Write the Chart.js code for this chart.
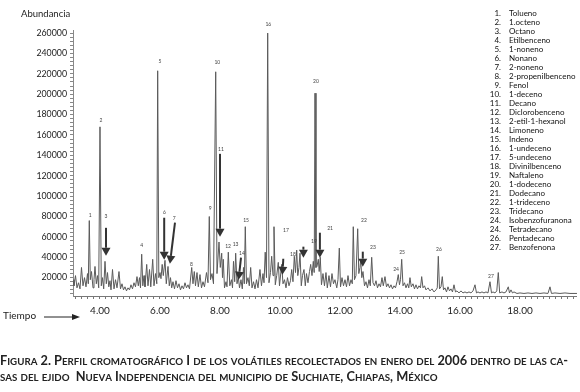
<!DOCTYPE html>
<html>
<head>
<meta charset="utf-8">
<script src="https://cdn.jsdelivr.net/npm/chart.js@4"></script>
<style>
  html, body { margin: 0; padding: 0; background: #fff; }
  #wrap { width: 580px; height: 392px; }
</style>
</head>
<body>
<div id="wrap"><canvas id="cromatograma" width="580" height="392"></canvas></div>
<script>
const tiempo = [
  3.100, 3.133, 3.183, 3.233, 3.283, 3.333, 3.383, 3.433, 3.483, 3.533,
  3.583, 3.610, 3.643, 3.677, 3.717, 3.767, 3.800, 3.833, 3.877, 3.917,
  3.957, 4.000, 4.043, 4.083, 4.123, 4.167, 4.210, 4.250, 4.293, 4.333,
  4.367, 4.417, 4.467, 4.517, 4.567, 4.633, 4.683, 4.733, 4.783, 4.833,
  4.883, 4.933, 4.983, 5.033, 5.083, 5.133, 5.183, 5.233, 5.277, 5.317,
  5.350, 5.390, 5.427, 5.467, 5.500, 5.557, 5.600, 5.650, 5.693, 5.757,
  5.800, 5.850, 5.893, 5.923, 5.960, 6.000, 6.033, 6.073, 6.110, 6.167,
  6.210, 6.267, 6.310, 6.350, 6.390, 6.433, 6.483, 6.533, 6.583, 6.633,
  6.683, 6.733, 6.783, 6.833, 6.883, 6.933, 6.983, 7.057, 7.100, 7.143,
  7.183, 7.233, 7.277, 7.333, 7.383, 7.433, 7.483, 7.550, 7.600, 7.643,
  7.683, 7.733, 7.783, 7.857, 7.900, 7.967, 8.010, 8.057, 8.083, 8.110,
  8.150, 8.200, 8.233, 8.277, 8.327, 8.383, 8.417, 8.450, 8.490, 8.523,
  8.567, 8.610, 8.650, 8.700, 8.743, 8.783, 8.810, 8.843, 8.883, 8.933,
  8.977, 9.023, 9.067, 9.117, 9.167, 9.217, 9.267, 9.333, 9.383, 9.433,
  9.467, 9.507, 9.550, 9.590, 9.633, 9.683, 9.723, 9.767, 9.800, 9.843,
  9.890, 9.943, 9.983, 10.057, 10.100, 10.150, 10.200, 10.250, 10.300, 10.350,
  10.390, 10.433, 10.477, 10.517, 10.557, 10.593, 10.633, 10.667, 10.710, 10.750,
  10.800, 10.843, 10.883, 10.933, 10.983, 11.023, 11.067, 11.110, 11.140, 11.167,
  11.200, 11.233, 11.277, 11.307, 11.343, 11.383, 11.433, 11.483, 11.533, 11.577,
  11.633, 11.683, 11.733, 11.783, 11.833, 11.893, 11.933, 11.977, 12.017, 12.067,
  12.117, 12.167, 12.217, 12.267, 12.317, 12.367, 12.410, 12.443, 12.483, 12.533,
  12.590, 12.627, 12.667, 12.690, 12.727, 12.767, 12.817, 12.867, 12.917, 12.967,
  13.010, 13.057, 13.100, 13.150, 13.200, 13.250, 13.300, 13.350, 13.400, 13.443,
  13.500, 13.550, 13.600, 13.650, 13.700, 13.750, 13.800, 13.850, 13.900, 13.943,
  13.983, 14.017, 14.057, 14.100, 14.150, 14.200, 14.250, 14.293, 14.333, 14.377,
  14.433, 14.483, 14.533, 14.583, 14.633, 14.683, 14.723, 14.767, 14.817, 14.867,
  14.933, 15.000, 15.067, 15.133, 15.200, 15.243, 15.277, 15.317, 15.367, 15.410,
  15.450, 15.500, 15.550, 15.600, 15.650, 15.700, 15.750, 15.800, 15.850, 15.900,
  15.967, 16.033, 16.100, 16.167, 16.233, 16.300, 16.367, 16.433, 16.500, 16.550,
  16.600, 16.667, 16.733, 16.800, 16.867, 16.933, 17.000, 17.050, 17.100, 17.167,
  17.227, 17.277, 17.323, 17.400, 17.467, 17.533, 17.610, 17.650, 17.700, 17.750,
  17.800, 17.900, 18.000, 18.133, 18.267, 18.400, 18.533, 18.667, 18.800, 18.933,
  19.000, 19.050, 19.167, 19.333, 19.500, 19.667, 19.900
];
const abundancia = [
  18000, 12000, 22000, 10000, 15000, 9000, 30000, 12000, 20000, 11000,
  24000, 14000, 76000, 18000, 26000, 10000, 18000, 31000, 14000, 22000,
  10000, 168000, 12000, 20000, 9000, 36000, 14000, 25000, 11000, 17000,
  8000, 28000, 9000, 18000, 10000, 26000, 9000, 14000, 8000, 11000,
  7000, 10000, 8000, 13000, 9000, 15000, 11000, 21000, 12000, 20000,
  10000, 43000, 12000, 22000, 11000, 33000, 12000, 28000, 11000, 38000,
  12000, 24000, 14000, 223000, 20000, 25000, 19000, 33000, 22000, 37000,
  14000, 31000, 12000, 20000, 10000, 16000, 9000, 17000, 10000, 14000,
  8000, 12000, 9000, 15000, 10000, 13000, 9000, 30000, 14000, 26000,
  12000, 25000, 11000, 23000, 10000, 16000, 11000, 25000, 15000, 80000,
  18000, 24000, 14000, 222000, 24000, 55000, 30000, 44000, 20000, 38000,
  10000, 16000, 11000, 45000, 12000, 18000, 10000, 36000, 16000, 44000,
  14000, 21000, 10000, 18000, 9000, 30000, 14000, 70000, 14000, 20000,
  12000, 30000, 10000, 16000, 9000, 18000, 10000, 28000, 12000, 24000,
  15000, 45000, 20000, 260000, 15000, 25000, 41000, 22000, 70000, 13000,
  22000, 35000, 12000, 33000, 14000, 18000, 10000, 20000, 12000, 17000,
  28000, 16000, 41000, 25000, 47000, 22000, 30000, 44000, 12000, 22000,
  28000, 12000, 24000, 15000, 26000, 33000, 22000, 36000, 25000, 201000,
  30000, 31000, 38000, 26000, 40000, 13000, 24000, 12000, 25000, 10000,
  22000, 11000, 24000, 14000, 18000, 10000, 18000, 49000, 11000, 20000,
  12000, 18000, 11000, 22000, 12000, 18000, 14000, 70000, 18000, 22000,
  68000, 24000, 30000, 38000, 20000, 26000, 12000, 16000, 10000, 18000,
  12000, 40000, 15000, 12000, 17000, 10000, 14000, 11000, 20000, 12000,
  21000, 11000, 14000, 10000, 13000, 9000, 12000, 10000, 16000, 23000,
  13000, 18000, 38000, 12000, 15000, 10000, 14000, 10000, 20000, 11000,
  14000, 9000, 13000, 9000, 12000, 10000, 21000, 10000, 12000, 8000,
  10000, 7000, 9000, 6000, 8000, 10000, 41000, 9000, 11000, 21000,
  8000, 10000, 6000, 11000, 7000, 9000, 6000, 13000, 6000, 7000,
  5000, 7000, 5000, 6000, 5000, 6000, 5000, 7000, 13000, 5000,
  6000, 5000, 6000, 5000, 6000, 5000, 16000, 5000, 6000, 5000,
  7000, 25000, 5000, 6000, 5000, 6000, 11000, 5000, 8000, 5000,
  6000, 4500, 5000, 4500, 5000, 4500, 5000, 4500, 5000, 4500,
  11000, 4500, 5000, 4500, 5000, 4500, 4500
];

// ticks con etiqueta
const yTicks = [20000, 40000, 60000, 80000, 100000, 120000, 140000, 160000, 180000, 200000, 220000, 240000, 260000];
const xTicks = [4, 6, 8, 10, 12, 14, 16, 18];

// numeros de pico (posicion del rotulo en min / abundancia)
const picoNum = ['1', '2', '3', '4', '5', '6', '7', '8', '9', '10', '11', '12', '13', '14', '15', '16', '17', '18', '19', '20', '21', '22', '23', '24', '25', '26', '27'];
const picoT = [3.67, 4.03, 4.2, 5.39, 6.0, 6.15, 6.47, 7.05, 7.67, 7.91, 8.03, 8.27, 8.52, 8.73, 8.87, 9.61, 10.2, 10.43, 11.13, 11.2, 11.67, 12.8, 13.1, 13.87, 14.07, 15.3, 17.03];
const picoV = [80700, 174700, 79700, 51300, 232500, 84500, 77700, 32700, 88000, 231500, 145400, 50400, 52300, 43500, 75800, 268800, 66000, 42500, 55200, 212700, 68600, 76400, 49400, 27800, 44500, 47400, 21000];

// flechas: desde (t1, v1) hasta la punta (t2, v2)
const flechaT1 = [4.2, 6.14, 6.5, 8.0, 8.7, 10.11, 10.78, 11.33, 12.76];
const flechaV1 = [68900, 78800, 73900, 141500, 39600, 38600, 50400, 64100, 45500];
const flechaT2 = [4.2, 6.14, 6.33, 8.0, 8.62, 10.08, 10.78, 11.33, 12.76];
const flechaV2 = [41500, 37600, 33700, 60200, 18000, 22900, 39600, 39600, 30800];

// lista de compuestos
const numeros = ['1.', '2.', '3.', '4.', '5.', '6.', '7.', '8.', '9.', '10.', '11.', '12.', '13.', '14.', '15.', '16.', '17.', '18.', '19.', '20.', '21.', '22.', '23.', '24.', '24.', '26.', '27.'];
const compuestos = ['Tolueno', '1.octeno', 'Octano', 'Etilbenceno', '1-noneno', 'Nonano', '2-noneno', '2-propenilbenceno', 'Fenol', '1-deceno', 'Decano', 'Diclorobenceno', '2-etil-1-hexanol', 'Limoneno', 'Indeno', '1-undeceno', '5-undeceno', 'Divinilbenceno', 'Naftaleno', '1-dodeceno', 'Dodecano', '1-trideceno', 'Tridecano', 'Isobenzofuranona', 'Tetradecano', 'Pentadecano', 'Benzofenona'];

const pie1 = 'Figura 2. Perfil cromatográfico I de los volátiles recolectados en enero del 2006 dentro de las ca-';
const pie2 = 'sas del ejido  Nueva Independencia del municipio de Suchiate, Chiapas, México';

const FONT = 'Lato, "Open Sans", sans-serif';

// dibuja texto en versalitas, letra por letra
function versalitas(ctx, text, x, y, big, small, draw) {
    let cx = x;
    for (const ch of text) {
        const lower = ch !== ch.toUpperCase();
        const c = lower ? ch.toUpperCase() : ch;
        ctx.font = 'bold ' + (lower ? small : big) + 'px ' + FONT;
        if (draw) ctx.fillText(c, cx, y);
        cx += ctx.measureText(c).width;
    }
    return cx - x;
}

function flecha(ctx, x1, y1, x2, y2, ancho, largo, medio) {
    const ang = Math.atan2(y2 - y1, x2 - x1);
    const bx = x2 - largo * Math.cos(ang), by = y2 - largo * Math.sin(ang);
    ctx.lineWidth = ancho;
    ctx.beginPath();
    ctx.moveTo(x1, y1);
    ctx.lineTo(bx, by);
    ctx.stroke();
    ctx.beginPath();
    ctx.moveTo(x2, y2);
    ctx.lineTo(bx + medio * Math.sin(ang), by - medio * Math.cos(ang));
    ctx.lineTo(bx - medio * Math.sin(ang), by + medio * Math.cos(ang));
    ctx.closePath();
    ctx.fill();
}

const anotaciones = {
    id: 'anotaciones',
    afterDatasetsDraw(chart) {
        const { ctx, scales: { x, y } } = chart;
        ctx.save();
        ctx.fillStyle = '#444';
        ctx.font = '5px ' + FONT;
        ctx.textAlign = 'center';
        ctx.textBaseline = 'middle';
        picoNum.forEach((n, i) => {
            ctx.fillText(n, x.getPixelForValue(picoT[i]), y.getPixelForValue(picoV[i]));
        });
        ctx.strokeStyle = '#333';
        ctx.fillStyle = '#333';
        flechaT1.forEach((t, i) => {
            flecha(ctx,
                x.getPixelForValue(t), y.getPixelForValue(flechaV1[i]),
                x.getPixelForValue(flechaT2[i]), y.getPixelForValue(flechaV2[i]),
                2, 8, 4.5);
        });
        ctx.restore();
    },
    afterDraw(chart) {
        const ctx = chart.ctx;
        ctx.save();
        ctx.fillStyle = '#222';
        ctx.textBaseline = 'middle';

        // titulos de ejes
        ctx.font = '9.5px ' + FONT;
        ctx.textAlign = 'left';
        ctx.fillText('Abundancia', 21, 14);
        ctx.font = '10px ' + FONT;
        ctx.fillText('Tiempo', 3, 316);
        ctx.strokeStyle = '#222';
        ctx.fillStyle = '#222';
        flecha(ctx, 44, 317, 80, 317, 1, 8, 3);

        // lista de compuestos
        ctx.font = '8px ' + FONT;
        ctx.fillStyle = '#111';
        numeros.forEach((n, i) => {
            const yy = 13 + i * 9;
            ctx.textAlign = 'right';
            ctx.fillText(n, 501, yy);
            ctx.textAlign = 'left';
            ctx.fillText(compuestos[i], 509, yy);
        });

        // pie de figura en versalitas, ajustado a 568 px
        ctx.fillStyle = '#222';
        ctx.textAlign = 'left';
        ctx.textBaseline = 'alphabetic';
        const w = versalitas(ctx, pie1, 0, 0, 10, 7.6, false);
        const k = 568 / w;
        versalitas(ctx, pie1, 0, 365, 10 * k, 7.6 * k, true);
        versalitas(ctx, pie2, 0, 381, 10 * k, 7.6 * k, true);
        ctx.restore();
    }
};

function main() {
    const canvas = document.querySelector('#cromatograma');

    new Chart(canvas.getContext('2d'), {
        type: 'line',
        data: {
            datasets: [{
                label: 'Abundancia',
                data: tiempo.map((t, i) => ({ x: t, y: abundancia[i] })),
                borderColor: '#5a5a5a',
                borderWidth: 1,
                pointRadius: 0,
                tension: 0,
                fill: false
            }]
        },
        options: {
            responsive: false,
            animation: false,
            devicePixelRatio: 1,
            layout: { padding: { left: 0, right: 3, top: 30, bottom: 0 } },
            plugins: { legend: { display: false }, tooltip: { enabled: false } },
            scales: {
                x: {
                    type: 'linear',
                    min: 3.1,
                    max: 19.9,
                    afterFit: scale => { scale.height = 96; },
                    afterBuildTicks: scale => {
                        const ticks = [];
                        for (let i = 16; i <= 99; i++) ticks.push({ value: i / 5 });
                        scale.ticks = ticks;
                    },
                    grid: { drawOnChartArea: false, drawTicks: true, tickLength: 3, color: '#777' },
                    border: { display: true, color: '#777', width: 1 },
                    ticks: {
                        autoSkip: false,
                        maxRotation: 0,
                        padding: 6,
                        color: '#222',
                        font: { family: FONT, size: 10 },
                        callback: v => xTicks.includes(Math.round(v * 10) / 10) ? v.toFixed(2) : ''
                    }
                },
                y: {
                    min: 2000,
                    max: 263000,
                    afterFit: scale => { scale.width = 73; },
                    afterBuildTicks: scale => {
                        const ticks = [];
                        for (let v = 4000; v <= 260000; v += 4000) ticks.push({ value: v });
                        scale.ticks = ticks;
                    },
                    grid: { drawOnChartArea: false, drawTicks: true, tickLength: 3, color: '#888' },
                    border: { display: true, color: '#888', width: 1 },
                    ticks: {
                        autoSkip: false,
                        padding: 3,
                        color: '#222',
                        font: { family: FONT, size: 8.8 },
                        callback: v => yTicks.includes(v) ? String(v) : ''
                    }
                }
            }
        },
        plugins: [anotaciones]
    });
}

main();
</script>
</body>
</html>
